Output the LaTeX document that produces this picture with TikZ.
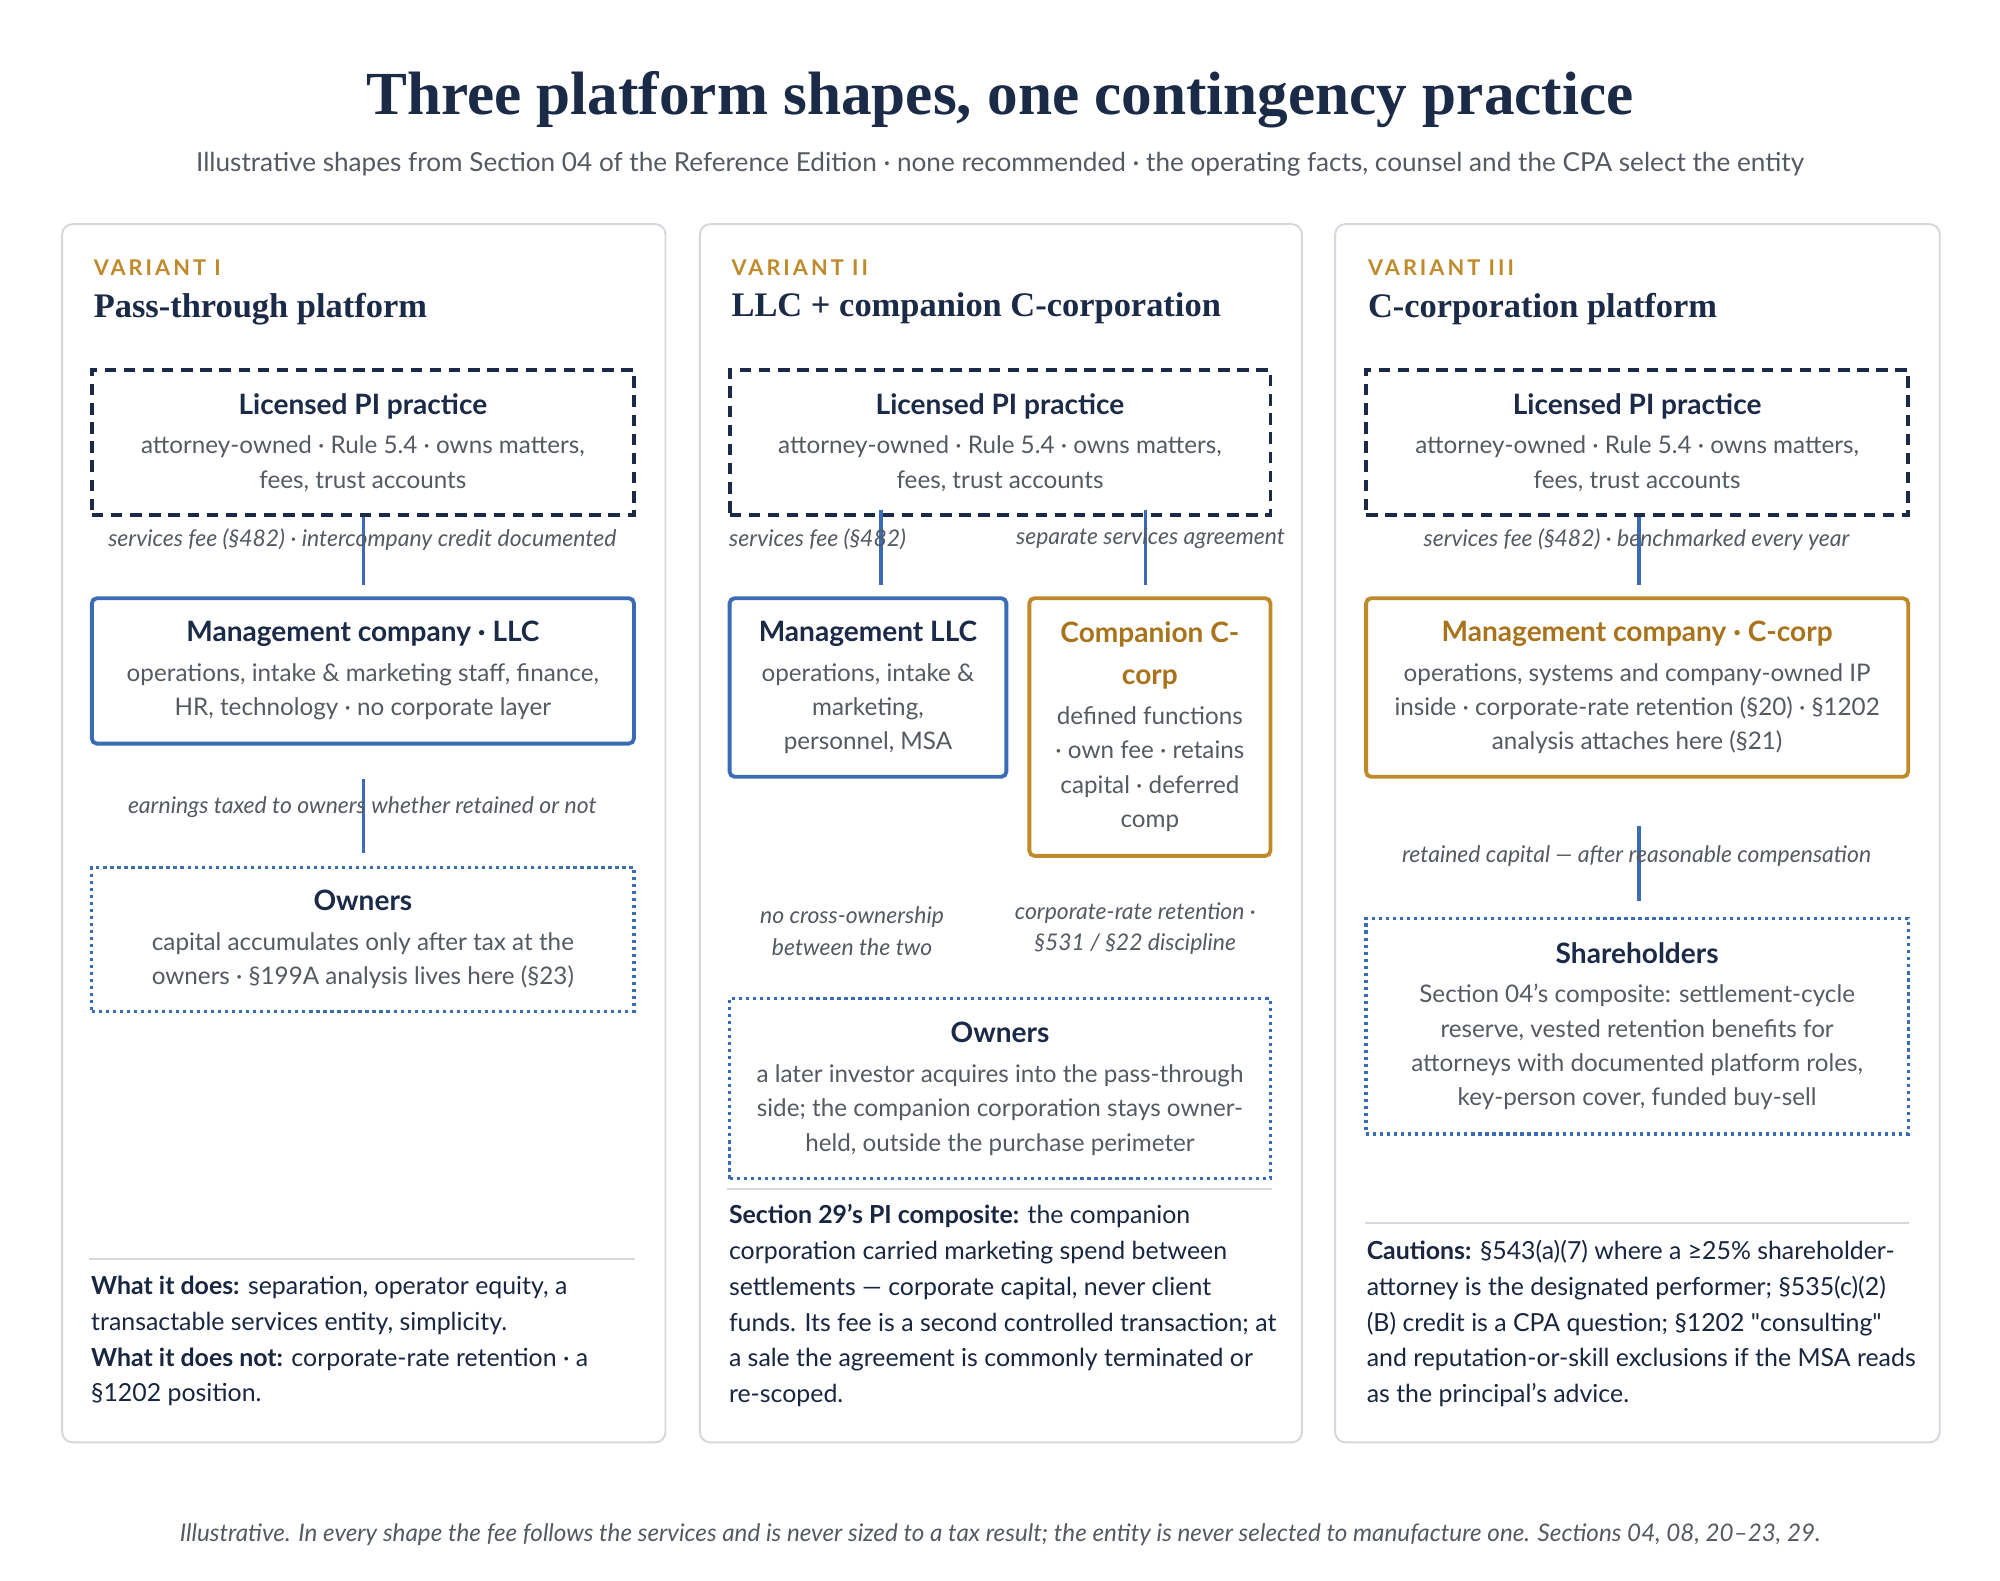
\documentclass[tikz,border=0pt]{standalone}
\usepackage{fontspec}
\setmainfont{Lato}
\newfontfamily\rawlato{Lato}
\newfontfamily\headfont{Liberation Serif}
\usetikzlibrary{positioning}
\definecolor{navy}{HTML}{1B2A47}
\definecolor{bluel}{HTML}{3A6BB5}
\definecolor{ochre}{HTML}{C08A2A}
\definecolor{ochretx}{HTML}{A8731A}
\definecolor{greytx}{HTML}{555A62}
\definecolor{panelline}{HTML}{D4D7DC}
\tikzset{
  panel/.style={draw=panelline,line width=1.5pt,rounded corners=8pt,anchor=north west,inner sep=0pt},
  boxtext/.style={align=center,inner sep=0pt,font=\fontsize{19}{27}\selectfont,text=greytx},
  practice/.style={boxtext,draw=navy,line width=3pt,dash pattern=on 9pt off 6pt},
  mgmt/.style={boxtext,draw=bluel,line width=3pt,rounded corners=4pt},
  corp/.style={boxtext,draw=ochre,line width=3pt,rounded corners=4pt},
  owner/.style={boxtext,draw=bluel,line width=2.5pt,dash pattern=on 2.5pt off 3pt},
  link/.style={draw=bluel,line width=3pt},
  note/.style={font=\fontsize{18}{25}\selectfont\itshape,text=greytx,align=center},
  tag/.style={font=\fontsize{17}{20}\selectfont\bfseries\addfontfeatures{LetterSpace=14},text=ochre,anchor=west},
  ptitle/.style={font=\fontsize{27}{32}\selectfont\headfont\bfseries,text=navy,anchor=west},
  body/.style={font=\fontsize{19.5}{28}\selectfont,text=navy!90!black,anchor=north west,align=left}
}
\newcommand{\bt}[1]{{\fontsize{22}{27}\selectfont\bfseries\color{navy}#1}}
\newcommand{\bo}[1]{{\fontsize{22}{27}\selectfont\bfseries\color{ochretx}#1}}
\newcommand{\dq}{{\rawlato\symbol{34}}}
\begin{document}
\begin{tikzpicture}[x=1pt,y=-1pt]
\useasboundingbox[fill=white] (0,0) rectangle (1568,1239);
% heading
\node[font=\fontsize{48}{56}\selectfont\headfont\bfseries,text=navy] (title) at (784,78) {Three platform shapes, one contingency practice};
\node[font=\fontsize{20.5}{26}\selectfont,text=greytx] (sub) at (784,129) {Illustrative shapes from Section 04 of the Reference Edition · none recommended · the operating facts, counsel and the CPA select the entity};

% panels
\node[panel,minimum width=473pt,minimum height=955pt] (p1) at (48,175) {};
\node[panel,minimum width=472pt,minimum height=955pt] (p2) at (548,175) {};
\node[panel,minimum width=474pt,minimum height=955pt] (p3) at (1046,175) {};

%% variant I
\node[tag] (v1) at (70,210) {VARIANT I};
\node[ptitle] (t1) at (70,242) {Pass-through platform};
\node[practice,minimum width=425pt,minimum height=114pt] (lic1) at (284.5,347) {\bt{Licensed PI practice}\\[4pt]attorney-owned · Rule 5.4 · owns matters,\\fees, trust accounts};
\node[mgmt,minimum width=425pt,minimum height=114pt] (man1) at (284.5,526) {\bt{Management company · LLC}\\[4pt]operations, intake \& marketing staff, finance,\\HR, technology · no corporate layer};
\node[owner,minimum width=425pt,minimum height=113pt] (own1) at (284.5,736.5) {\bt{Owners}\\[4pt]capital accumulates only after tax at the\\owners · §199A analysis lives here (§23)};
\draw[link] (lic1.south -| 285,0) -- ([yshift=9pt]man1.north -| 285,0);
\draw[link] ([yshift=-26pt]man1.south -| 285,0) -- ([yshift=10pt]own1.north -| 285,0);
\node[note] (n1a) at (284,423) {services fee (§482) · intercompany credit documented};
\node[note] (n1b) at (284,633) {earnings taxed to owners whether retained or not};
\draw[panelline,line width=1.2pt] (70,987) -- (498,987);
\node[body] (d1) at (68,997) {\textbf{What it does:} separation, operator equity, a\\transactable services entity, simplicity.\\\textbf{What it does not:} corporate-rate retention · a\\§1202 position.};

%% variant II
\node[tag] (v2) at (570,210) {VARIANT II};
\node[ptitle] (t2) at (570,242) {LLC + companion C-corporation};
\node[practice,minimum width=424pt,minimum height=114pt] (lic2) at (784,347) {\bt{Licensed PI practice}\\[4pt]attorney-owned · Rule 5.4 · owns matters,\\fees, trust accounts};
\node[mgmt,minimum width=217pt,minimum height=140pt] (man2) at (680.5,539) {\bt{Management LLC}\\[4pt]operations, intake \&\\marketing,\\personnel, MSA};
\node[corp,minimum width=189pt,minimum height=202pt] (cmp2) at (901.5,570) {\bo{Companion C-}\\[6pt]\bo{corp}\\[4pt]defined functions\\· own fee · retains\\capital · deferred\\comp};
\node[owner,minimum width=424pt,minimum height=141pt] (own2) at (784,853.5) {\bt{Owners}\\[4pt]a later investor acquires into the pass-through\\side; the companion corporation stays owner-\\held, outside the purchase perimeter};
\draw[link] ([yshift=6pt]lic2.south -| 691,0) -- ([yshift=9pt]man2.north -| 691,0);
\draw[link] ([yshift=6pt]lic2.south -| 898,0) -- ([yshift=9pt]cmp2.north -| 898,0);
\node[note] (n2a) at (641,423) {services fee (§482)};
\node[note] (n2b) at (902,422) {separate services agreement};
\node[note] (n2c) at (668,730) {no cross-ownership\\between the two};
\node[note] (n2d) at (890,728) {corporate-rate retention ·\\§531 / §22 discipline};
\draw[panelline,line width=1.2pt] (570,932) -- (997,932);
\node[body] (d2) at (568,941) {\textbf{Section 29's PI composite:} the companion\\corporation carried marketing spend between\\settlements — corporate capital, never client\\funds. Its fee is a second controlled transaction; at\\a sale the agreement is commonly terminated or\\re-scoped.};

%% variant III
\node[tag] (v3) at (1069,210) {VARIANT III};
\node[ptitle] (t3) at (1069,242) {C-corporation platform};
\node[practice,minimum width=425pt,minimum height=114pt] (lic3) at (1283.5,347) {\bt{Licensed PI practice}\\[4pt]attorney-owned · Rule 5.4 · owns matters,\\fees, trust accounts};
\node[corp,minimum width=425pt,minimum height=140pt] (man3) at (1283.5,539) {\bo{Management company · C-corp}\\[4pt]operations, systems and company-owned IP\\inside · corporate-rate retention (§20) · §1202\\analysis attaches here (§21)};
\node[owner,minimum width=425pt,minimum height=169pt] (own3) at (1283.5,804.5) {\bt{Shareholders}\\[4pt]Section 04's composite: settlement-cycle\\reserve, vested retention benefits for\\attorneys with documented platform roles,\\key-person cover, funded buy-sell};
\draw[link] (lic3.south -| 1285,0) -- ([yshift=9pt]man3.north -| 1285,0);
\draw[link] ([yshift=-37pt]man3.south -| 1285,0) -- ([yshift=12pt]own3.north -| 1285,0);
\node[note] (n3a) at (1283,423) {services fee (§482) · benchmarked every year};
\node[note] (n3b) at (1283,671) {retained capital — after reasonable compensation};
\draw[panelline,line width=1.2pt] (1070,959) -- (1497,959);
\node[body] (d3) at (1068,969) {\textbf{Cautions:} §543(a)(7) where a ≥25\% shareholder-\\attorney is the designated performer; §535(c)(2)\\(B) credit is a CPA question; §1202 \dq consulting\dq\\and reputation-or-skill exclusions if the MSA reads\\as the principal's advice.};

% footer
\node[note,font=\fontsize{19}{25}\selectfont\itshape] (foot) at (784,1203) {Illustrative. In every shape the fee follows the services and is never sized to a tax result; the entity is never selected to manufacture one. Sections 04, 08, 20–23, 29.};
\end{tikzpicture}
\end{document}
